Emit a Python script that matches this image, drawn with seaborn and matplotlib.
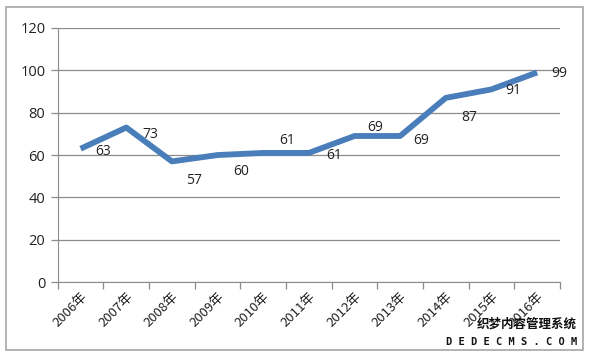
import pandas as pd
import matplotlib.pyplot as plt
import seaborn as sns

years = ['2006年', '2007年', '2008年', '2009年', '2010年', '2011年',
         '2012年', '2013年', '2014年', '2015年', '2016年']
values = [63, 73, 57, 60, 61, 61, 69, 69, 87, 91, 99]
# label offsets in points (Excel placed them a bit to the right, above or below)
label_dx = [16, 17, 16, 17, 17, 18, 15, 15, 17, 16, 16]
label_dy = [-2, -5, -14, -12, 9, -2, 6, -3, -14, -1, -1]

df = pd.DataFrame({'idx': range(len(years)), 'year': years, 'value': values})

sns.set_style('white')
plt.rcParams['font.family'] = ['Noto Sans CJK SC', 'DejaVu Sans']

fig = plt.figure(figsize=(5.9, 3.54), dpi=100)
ax = fig.add_axes([0.098, 0.203, 0.851, 0.718])

sns.lineplot(data=df, x='idx', y='value', color='#4a7ebb', linewidth=4.2,
             solid_capstyle='butt', ax=ax)

for i, v in enumerate(values):
    ax.annotate(str(v), (i, v), xytext=(label_dx[i], label_dy[i]),
                textcoords='offset points', ha='center', va='center',
                fontsize=10, color='#222222', family='Open Sans')

ax.set_xlim(-0.5, len(years) - 0.5)
ax.set_ylim(0, 120)
ax.set_yticks(range(0, 121, 20))
ax.yaxis.grid(True, color='#8c8c8c', linewidth=0.9)
ax.set_xlabel('')
ax.set_ylabel('')

# category boundary ticks, labels at category centers
ax.set_xticks([i - 0.5 for i in range(len(years) + 1)])
ax.set_xticklabels([])
ax.set_xticks(range(len(years)), minor=True)
ax.set_xticklabels(years, minor=True, rotation=45, ha='right',
                   rotation_mode='anchor', fontsize=9.5, color='#222222')
ax.tick_params(axis='x', which='major', length=5, width=0.9, color='#8c8c8c', direction='out', bottom=True)
ax.tick_params(axis='x', which='minor', length=0, pad=6)
ax.tick_params(axis='y', length=5, width=0.9, color='#8c8c8c', direction='out', left=True, pad=4)
for lab in ax.get_yticklabels():
    lab.set_fontsize(10.5)
    lab.set_color('#222222')
    lab.set_family('Open Sans')

for side in ['top', 'right']:
    ax.spines[side].set_visible(False)
ax.spines['left'].set_color('#8c8c8c')
ax.spines['bottom'].set_color('#8c8c8c')

# outer chart border
fig.patches.append(plt.Rectangle((0.01, 0.012), 0.978, 0.968, transform=fig.transFigure,
                                 fill=False, edgecolor='#a6a6a6', linewidth=1.2))

# watermark
fig.text(0.978, 0.085, '织梦内容管理系统', ha='right', va='center', fontsize=9,
         color='#111111', weight='bold')
fig.text(0.978, 0.035, 'D E D E C M S . C O M', ha='right', va='center', fontsize=7.5,
         color='#111111', weight='bold', family='DejaVu Sans Mono')

plt.savefig('out.png', dpi=100)
